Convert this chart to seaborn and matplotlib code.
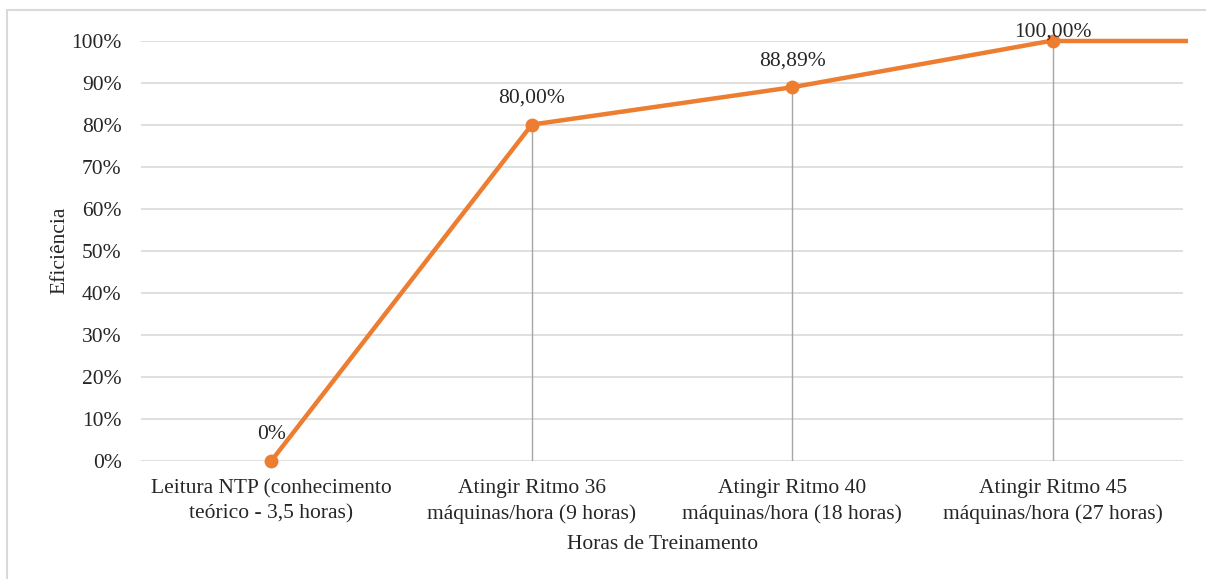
import matplotlib
matplotlib.use('Agg')
import matplotlib.pyplot as plt
import matplotlib.ticker as ticker
from matplotlib.patches import Rectangle
import seaborn as sns
import pandas as pd

# -------------------------
# DATA
# -------------------------
etapas = [
    'Leitura NTP (conhecimento\nteórico - 3,5 horas)',
    'Atingir Ritmo 36\nmáquinas/hora (9 horas)',
    'Atingir Ritmo 40\nmáquinas/hora (18 horas)',
    'Atingir Ritmo 45\nmáquinas/hora (27 horas)',
]
eficiencia = [0.0, 0.80, 0.8889, 1.0]
rotulos = ['0%', '80,00%', '88,89%', '100,00%']

orange = '#ED7D31'
grid_c = '#D9D9D9'
drop_c = '#A6A6A6'
txt = '#262626'
fs = 15.5

df = pd.DataFrame({'x': range(len(etapas)), 'y': eficiencia})

sns.set_theme(style='white')
plt.rcParams['font.family'] = ['Liberation Serif', 'DejaVu Serif']

fig = plt.figure(figsize=(12.06, 5.79), dpi=100)
ax = fig.add_axes([0.117, 0.204, 0.864, 0.726])

ax.set_xlim(-0.5, len(etapas) - 0.5)
ax.set_ylim(0, 1)

# gridlines
for v in [i / 10 for i in range(11)]:
    ax.axhline(v, color=grid_c, lw=1.2, zorder=0)

# drop lines
ax.vlines(df['x'], 0, df['y'], color=drop_c, lw=1.0, zorder=1)

# line continues flat to the right edge
ax.plot([df['x'].iloc[-1], ax.get_xlim()[1] + 0.02], [eficiencia[-1]] * 2,
        color=orange, lw=3.2, solid_capstyle='butt', zorder=3, clip_on=False)
sns.lineplot(data=df, x='x', y='y', color=orange, lw=3.2, marker='o',
             markersize=10, markeredgewidth=0, ax=ax, zorder=4, clip_on=False)

# last label is squeezed against the top of the chart
offsets = [12, 12, 12, -1]
for xi, yi, lab, off in zip(df['x'], df['y'], rotulos, offsets):
    ax.annotate(lab, (xi, yi), textcoords='offset points', xytext=(0, off),
                ha='center', va='bottom', fontsize=fs, color=txt, zorder=5)

ax.set_xticks(list(df['x']))
ax.set_xticklabels(etapas, fontsize=fs, color=txt, linespacing=1.4)
ax.set_yticks([i / 10 for i in range(11)])
ax.yaxis.set_major_formatter(ticker.FuncFormatter(lambda v, _: '{:.0f}%'.format(v * 100)))
ax.tick_params(axis='y', labelsize=fs, labelcolor=txt, length=0, pad=14)
ax.tick_params(axis='x', length=0, pad=13)
for s in ax.spines.values():
    s.set_visible(False)

ax.set_xlabel('Horas de Treinamento', fontsize=fs, color=txt, labelpad=8)
ax.set_ylabel('Eficiência', fontsize=fs, color=txt, labelpad=1)

# chart border
fig.patches.append(Rectangle((7 / 1206, -0.1), 1.2, 1 - 10 / 579 + 0.1,
                             transform=fig.transFigure, fill=False,
                             edgecolor='#D9D9D9', lw=1.5))

fig.savefig('out.png', dpi=100)
